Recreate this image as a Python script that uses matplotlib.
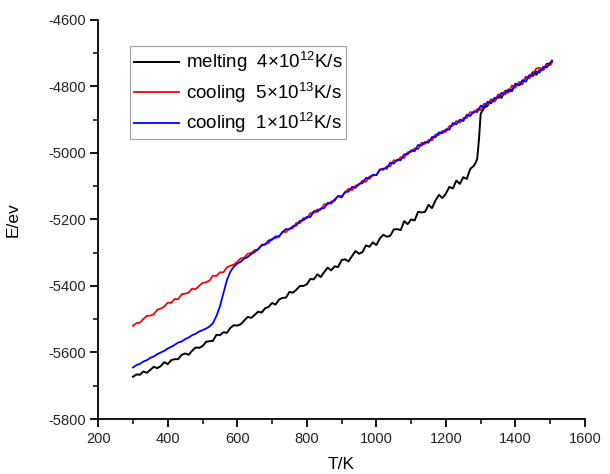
import matplotlib
matplotlib.use("Agg")
import matplotlib.pyplot as plt
from matplotlib.ticker import MultipleLocator

plt.rcParams['font.family'] = ['Liberation Sans', 'DejaVu Sans']
plt.rcParams['axes.unicode_minus'] = False
plt.rcParams['mathtext.fontset'] = 'custom'
plt.rcParams['mathtext.rm'] = 'Liberation Sans'

# melting 4x10^12 K/s
t_melt = [300, 310, 320, 330, 340, 350, 360, 370, 380, 390,
          400, 410, 420, 430, 440, 450, 460, 470, 480, 490,
          500, 510, 520, 530, 540, 550, 560, 570, 580, 590,
          600, 610, 620, 630, 640, 650, 660, 670, 680, 690,
          700, 710, 720, 730, 740, 750, 760, 770, 780, 790,
          800, 810, 820, 830, 840, 850, 860, 870, 880, 890,
          900, 910, 920, 930, 940, 950, 960, 970, 980, 990,
          1000, 1010, 1020, 1030, 1040, 1050, 1060, 1070, 1080, 1090,
          1100, 1110, 1120, 1130, 1140, 1150, 1160, 1170, 1180, 1190,
          1200, 1210, 1220, 1230, 1240, 1250, 1260, 1270, 1280, 1285,
          1290, 1295, 1300, 1310, 1320, 1330, 1340, 1350, 1360, 1370,
          1380, 1390, 1400, 1410, 1420, 1430, 1440, 1450, 1460, 1470,
          1480, 1490, 1500, 1505]
e_melt = [-5673, -5666, -5667, -5657, -5661, -5652, -5643, -5647, -5641, -5629,
          -5635, -5623, -5620, -5620, -5607, -5603, -5607, -5595, -5585, -5586,
          -5581, -5568, -5566, -5565, -5547, -5548, -5539, -5541, -5526, -5518,
          -5519, -5515, -5504, -5493, -5496, -5487, -5477, -5480, -5467, -5463,
          -5451, -5456, -5441, -5436, -5435, -5418, -5420, -5411, -5400, -5400,
          -5395, -5379, -5380, -5365, -5373, -5358, -5345, -5353, -5341, -5343,
          -5322, -5320, -5326, -5310, -5295, -5303, -5298, -5278, -5282, -5269,
          -5277, -5257, -5246, -5252, -5249, -5230, -5229, -5232, -5205, -5214,
          -5200, -5203, -5177, -5179, -5177, -5156, -5166, -5143, -5126, -5136,
          -5122, -5102, -5107, -5083, -5093, -5073, -5078, -5048, -5039, -5030,
          -5018, -4960, -4882, -4864, -4858, -4839, -4843, -4831, -4834, -4814,
          -4813, -4814, -4792, -4796, -4792, -4771, -4775, -4757, -4765, -4750,
          -4750, -4732, -4732, -4725]

# cooling 5x10^13 K/s and 1x10^12 K/s share the same temperature grid
t_cool = [300, 310, 320, 330, 340, 350, 360, 370, 380, 390,
          400, 410, 420, 430, 440, 450, 460, 470, 480, 490,
          500, 510, 520, 530, 540, 550, 560, 570, 580, 590,
          600, 610, 620, 630, 640, 650, 660, 670, 680, 690,
          700, 710, 720, 730, 740, 750, 760, 770, 780, 790,
          800, 810, 820, 830, 840, 850, 860, 870, 880, 890,
          900, 910, 920, 930, 940, 950, 960, 970, 980, 990,
          1000, 1010, 1020, 1030, 1040, 1050, 1060, 1070, 1080, 1090,
          1100, 1110, 1120, 1130, 1140, 1150, 1160, 1170, 1180, 1190,
          1200, 1210, 1220, 1230, 1240, 1250, 1260, 1270, 1280, 1290,
          1300, 1310, 1320, 1330, 1340, 1350, 1360, 1370, 1380, 1390,
          1400, 1410, 1420, 1430, 1440, 1450, 1460, 1470, 1480, 1490,
          1500, 1505]
e_fast = [-5520, -5512, -5510, -5499, -5490, -5489, -5485, -5471, -5468, -5462,
          -5450, -5451, -5439, -5440, -5425, -5423, -5420, -5408, -5410, -5400,
          -5391, -5389, -5384, -5369, -5370, -5359, -5359, -5344, -5339, -5336,
          -5327, -5317, -5315, -5303, -5301, -5292, -5291, -5276, -5274, -5271,
          -5258, -5256, -5252, -5237, -5238, -5227, -5226, -5210, -5211, -5196,
          -5197, -5181, -5180, -5170, -5171, -5154, -5155, -5146, -5144, -5129,
          -5130, -5118, -5108, -5112, -5098, -5096, -5083, -5087, -5071, -5068,
          -5066, -5049, -5051, -5040, -5040, -5022, -5024, -5013, -5015, -4998,
          -4997, -4986, -4989, -4969, -4973, -4961, -4962, -4944, -4946, -4933,
          -4937, -4919, -4918, -4904, -4909, -4895, -4895, -4877, -4880, -4868,
          -4871, -4852, -4855, -4840, -4846, -4824, -4828, -4816, -4819, -4797,
          -4804, -4787, -4791, -4772, -4776, -4763, -4746, -4744, -4750, -4735,
          -4736, -4728]
e_slow = [-5645, -5638, -5634, -5627, -5623, -5616, -5612, -5605, -5600, -5595,
          -5588, -5583, -5577, -5570, -5567, -5560, -5555, -5548, -5544, -5537,
          -5533, -5528, -5522, -5512, -5490, -5462, -5422, -5383, -5357, -5342,
          -5333, -5327, -5318, -5313, -5304, -5298, -5289, -5278, -5276, -5263,
          -5261, -5251, -5251, -5238, -5229, -5230, -5220, -5218, -5204, -5203,
          -5192, -5193, -5175, -5177, -5167, -5166, -5150, -5152, -5140, -5130,
          -5134, -5118, -5116, -5102, -5105, -5093, -5091, -5075, -5077, -5065,
          -5067, -5051, -5047, -5047, -5029, -5032, -5020, -5022, -5004, -5004,
          -4992, -4995, -4976, -4978, -4967, -4969, -4952, -4953, -4938, -4941,
          -4929, -4930, -4910, -4914, -4900, -4904, -4885, -4889, -4875, -4877,
          -4858, -4862, -4846, -4851, -4834, -4835, -4819, -4824, -4809, -4812,
          -4792, -4797, -4781, -4786, -4766, -4769, -4755, -4758, -4741, -4743,
          -4729, -4722]

labels = [r"melting  4×10$^{12}$K/s",
          r"cooling  5×10$^{13}$K/s",
          r"cooling  1×10$^{12}$K/s"]

fig = plt.figure(figsize=(6.1, 4.74), dpi=100)
ax = fig.add_axes([0.161, 0.116, 0.798, 0.842])

ax.plot(t_melt, e_melt, color='black', lw=1.4, label=labels[0])
ax.plot(t_cool, e_fast, color='red', lw=1.3, label=labels[1])
ax.plot(t_cool, e_slow, color='blue', lw=1.3, label=labels[2])

ax.set_xlim(200, 1600)
ax.set_ylim(-5800, -4600)
ax.xaxis.set_major_locator(MultipleLocator(200))
ax.xaxis.set_minor_locator(MultipleLocator(100))
ax.yaxis.set_major_locator(MultipleLocator(200))
ax.yaxis.set_minor_locator(MultipleLocator(100))

ax.spines['top'].set_visible(False)
ax.spines['right'].set_visible(False)
for s in ['left', 'bottom']:
    ax.spines[s].set_linewidth(1.3)
ax.tick_params(which='major', direction='out', length=6, width=1.3, labelsize=10.5, pad=3,
               labelcolor='#222222')
ax.tick_params(which='minor', direction='out', length=3.5, width=1.1)

ax.set_xlabel("T/K", fontsize=12.5, labelpad=8)
ax.set_ylabel("E/ev", fontsize=12.5, labelpad=20)

leg = ax.legend(loc='upper left', bbox_to_anchor=(0.066, 0.935), borderaxespad=0,
                fontsize=13.5, handlelength=2.4, handletextpad=0.35,
                labelspacing=0.3, fancybox=False, framealpha=1, borderpad=0.2)
leg.get_frame().set_edgecolor('#a0a0a0')
leg.get_frame().set_linewidth(0.8)

fig.savefig("out.png", dpi=100)
